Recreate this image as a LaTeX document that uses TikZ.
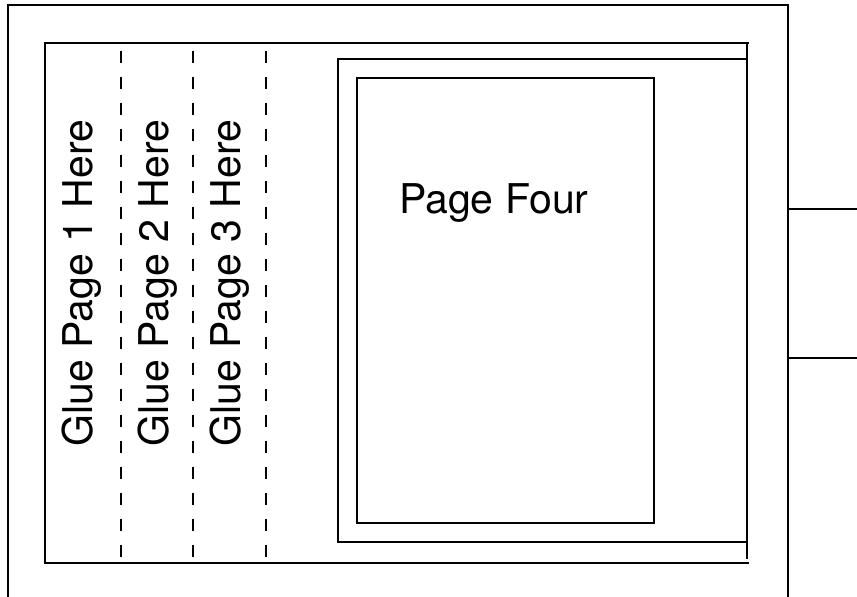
\documentclass[tikz,border=0pt]{standalone}
\usepackage{fontspec}
\setmainfont{TeX Gyre Heros}
\begin{document}
\begin{tikzpicture}[x=1pt,y=1pt,
  edge/.style={line width=2pt,line cap=rect},
  fold/.style={line width=2pt,dash pattern=on 12pt off 14pt},
  glue/.style={rotate=90,anchor=base,inner sep=0pt,font=\fontsize{41}{48}\selectfont},
  title/.style={anchor=base west,inner sep=0pt,font=\fontsize{41}{48}\selectfont}]
\useasboundingbox (0,0) rectangle (857,-597);
% outer frame, open at bottom
\draw[edge] (8.3,-597) -- (8.3,-5) -- (788.3,-5) -- (788.3,-597);
% strip
\draw[edge] (748,-43.3) -- (45,-43.3) -- (45,-563) -- (747.5,-563);
\draw[edge] (746.7,-43.3) -- (746.7,-557.7);
% page four frames
\draw[edge] (746.7,-59.3) -- (338.3,-59.3) -- (338.3,-541.7) -- (746.7,-541.7);
\draw[edge] (356.7,-77.7) rectangle (654,-522.7);
% side ticks
\draw[edge] (788.3,-209.3) -- (857,-209.3);
\draw[edge] (788.3,-357.7) -- (857,-357.7);
% fold lines
\foreach \x in {120.7,193.3,265.7} \draw[fold] (\x,-50.7) -- (\x,-558.5);
% labels
\node[glue] (g1) at (92,-283) {Glue Page 1 Here};
\node[glue] (g2) at (168,-283) {Glue Page 2 Here};
\node[glue] (g3) at (240,-283) {Glue Page 3 Here};
\node[title] (p4) at (399,-213.5) {Page Four};
\end{tikzpicture}
\end{document}
